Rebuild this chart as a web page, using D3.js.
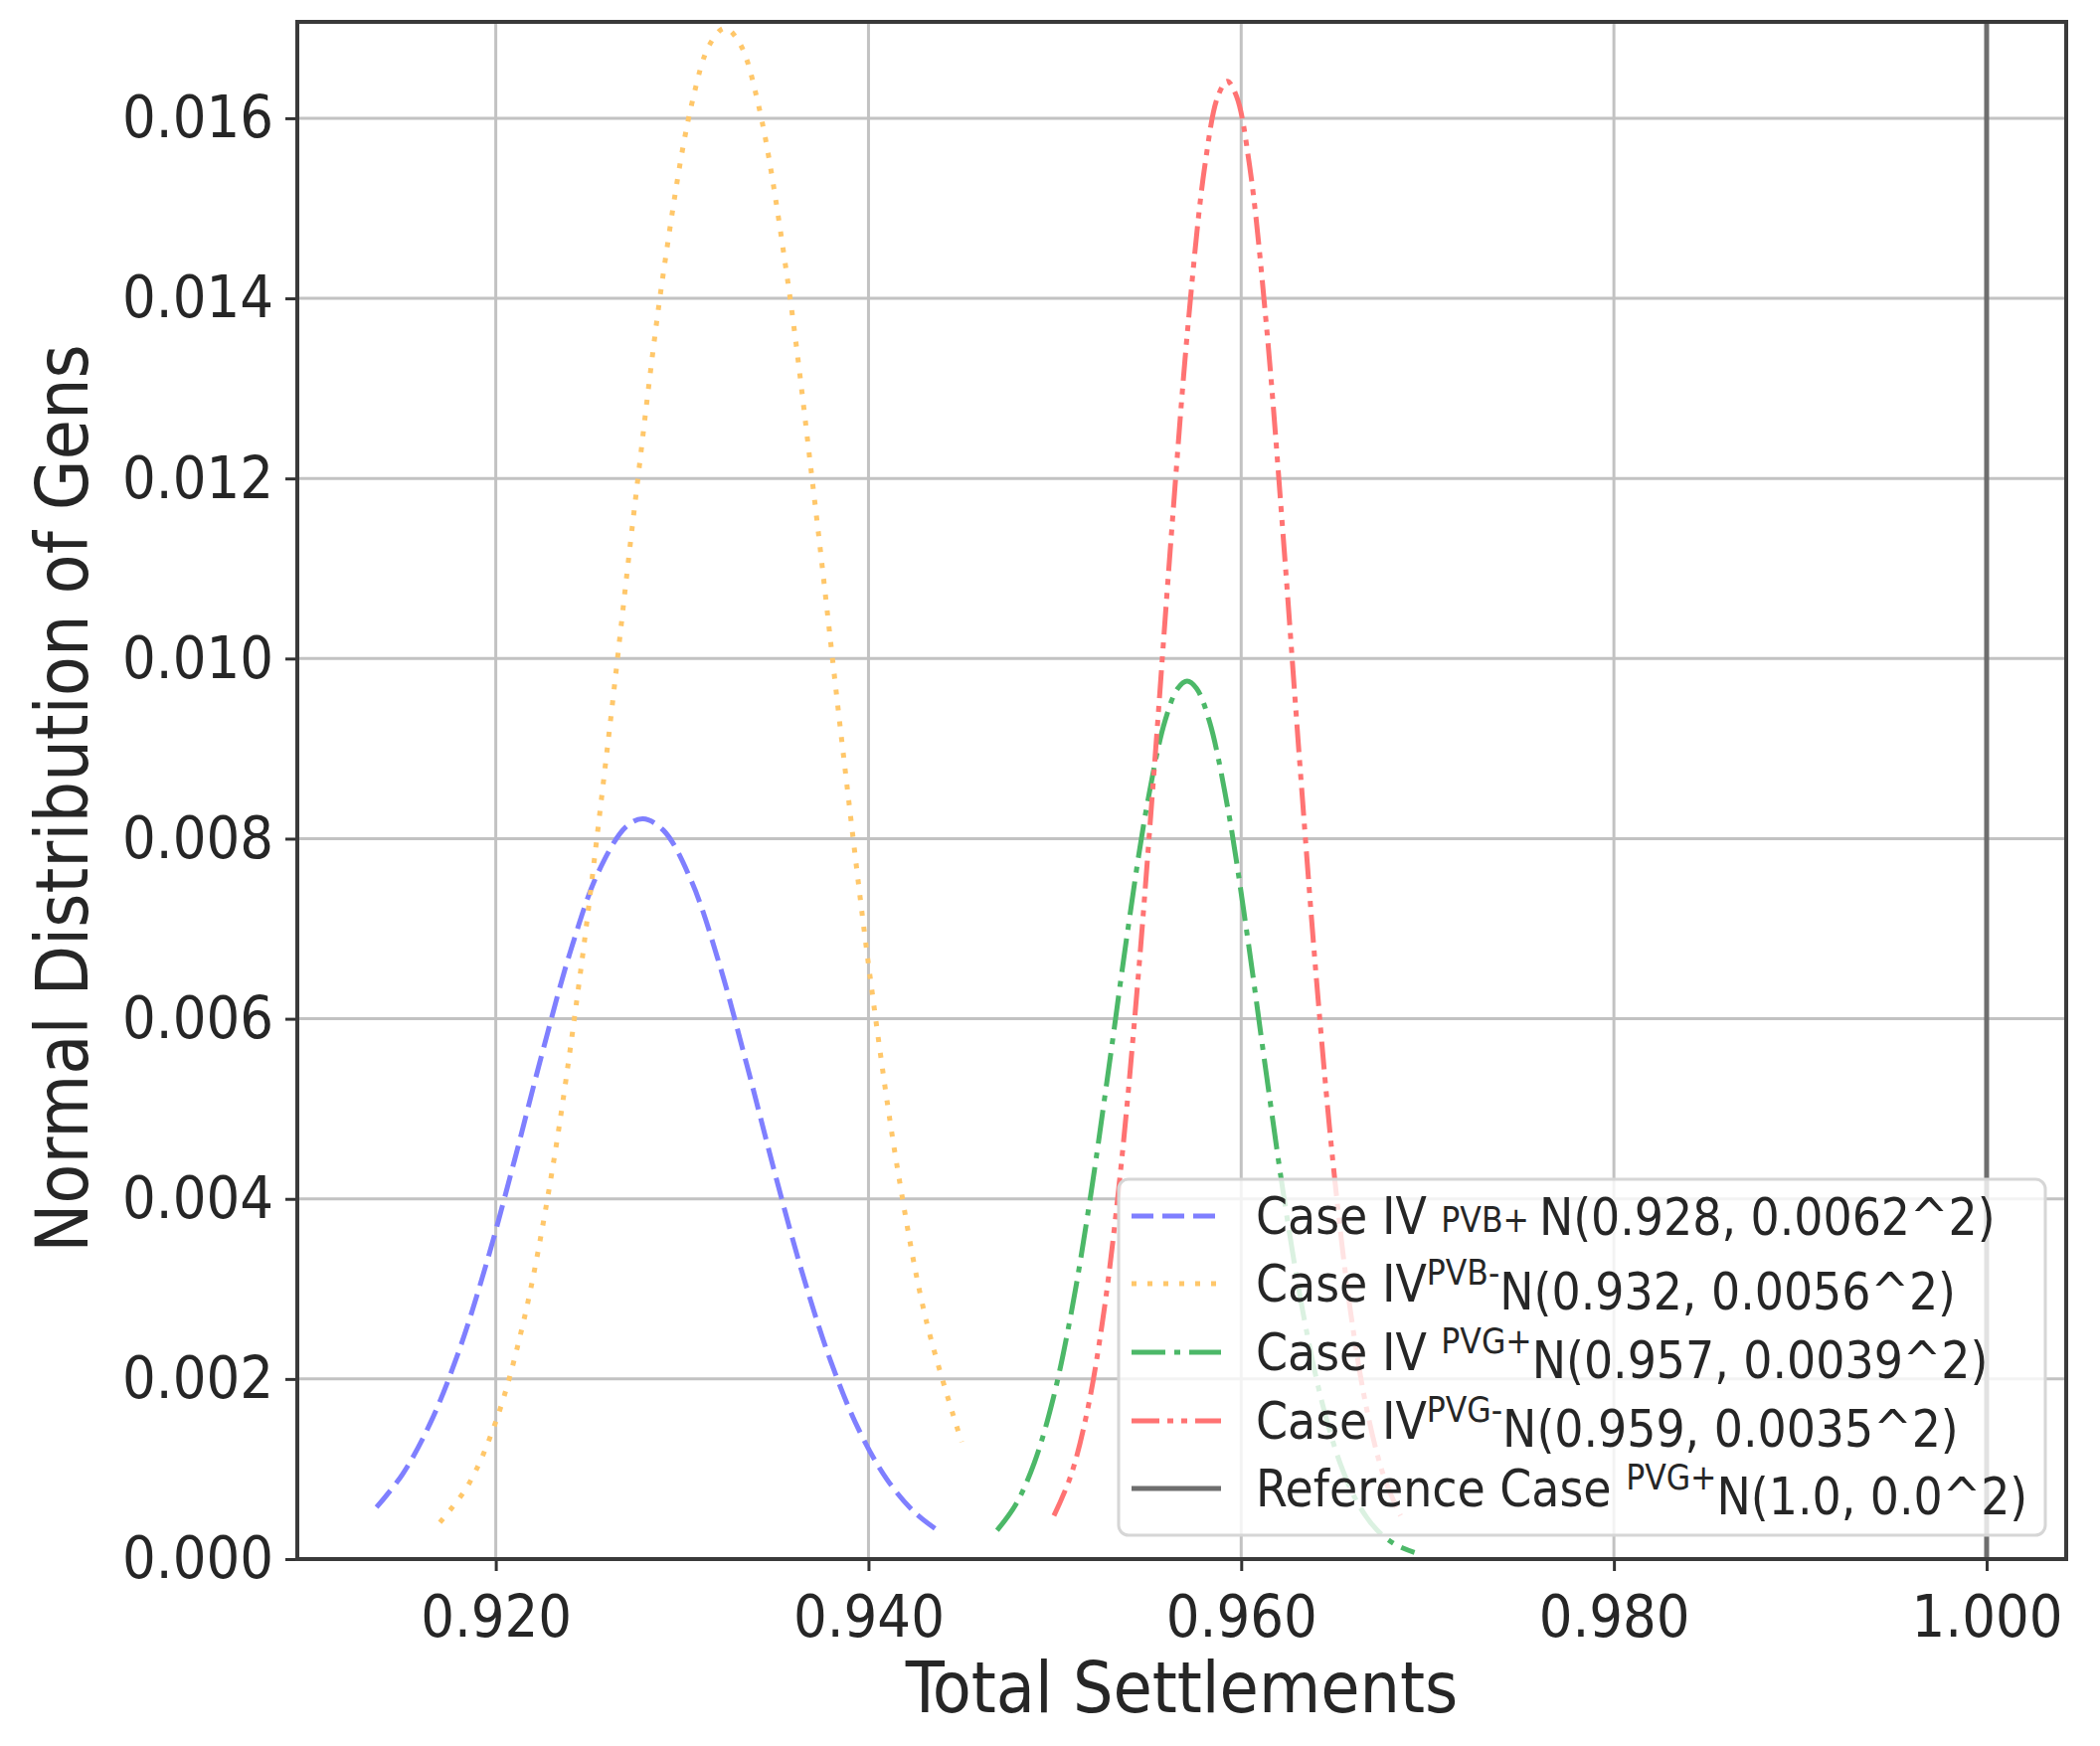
<!DOCTYPE html>
<html>
<head>
<meta charset="utf-8">
<script src="https://cdn.jsdelivr.net/npm/d3@7"></script>
<style>
  html, body { margin: 0; padding: 0; background: #ffffff; }
  svg text { font-family: "DejaVu Sans", "Liberation Sans", sans-serif; font-stretch: condensed; fill: #262626; }
</style>
</head>
<body>
<svg id="chart" width="2112" height="1756"></svg>
<script>
// ---------- data ----------
const xTicks = [0.920, 0.940, 0.960, 0.980, 1.000];
const yTicks = [0.000, 0.002, 0.004, 0.006, 0.008, 0.010, 0.012, 0.014, 0.016];
const xDomain = [0.90935, 1.00427];
const yDomain = [0, 0.01707];

const casePVBplus = [
  [0.9136,0.000575],[0.9150,0.000944],[0.9165,0.001516],[0.9180,0.002297],[0.9195,0.003283],
  [0.9210,0.004425],[0.9225,0.005625],[0.9240,0.006745],[0.9255,0.007627],[0.9270,0.008134],
  [0.9279,0.008220],[0.9290,0.008092],[0.9305,0.007528],[0.9320,0.006606],[0.9335,0.005466],
  [0.9350,0.004267],[0.9365,0.003141],[0.9380,0.002181],[0.9395,0.001428],[0.9410,0.000882],
  [0.9425,0.000514],[0.9437,0.000320]
];
const casePVBminus = [
  [0.9170,0.000407],[0.9185,0.000816],[0.9200,0.001524],[0.9215,0.002647],[0.9230,0.004281],
  [0.9245,0.006445],[0.9260,0.009029],[0.9275,0.011774],[0.9290,0.014290],[0.9305,0.016144],
  [0.9315,0.016828],[0.9323,0.017000],[0.9331,0.016828],[0.9341,0.016144],[0.9356,0.014290],
  [0.9371,0.011774],[0.9386,0.009029],[0.9401,0.006445],[0.9416,0.004281],[0.9431,0.002647],
  [0.9450,0.001299]
];
const casePVGplus = [
  [0.9469,0.000319],[0.9479,0.000604],[0.9489,0.001070],[0.9499,0.001773],[0.9509,0.002756],
  [0.9519,0.004008],[0.9529,0.005460],[0.9539,0.006963],[0.9549,0.008316],[0.9559,0.009299],
  [0.9566,0.009670],[0.9571,0.009750],[0.9576,0.009670],[0.9583,0.009299],[0.9593,0.008316],
  [0.9603,0.006963],[0.9613,0.005460],[0.9623,0.004008],[0.9633,0.002756],[0.9643,0.001773],
  [0.9653,0.001070],[0.9663,0.000604],[0.9673,0.000319],[0.9683,0.000158],[0.9693,0.000073]
];
const casePVGminus = [
  [0.94995,0.000481],[0.95085,0.000921],[0.95175,0.001652],[0.95265,0.002773],[0.95355,0.004357],
  [0.95445,0.006408],[0.95535,0.008820],[0.95625,0.011366],[0.95715,0.013707],[0.95805,0.015473],
  [0.95875,0.016244],[0.95925,0.016410],[0.95975,0.016244],[0.96045,0.015473],[0.96135,0.013707],
  [0.96225,0.011366],[0.96315,0.008820],[0.96405,0.006408],[0.96495,0.004357],[0.96585,0.002773],
  [0.96675,0.001652],[0.96765,0.000921],[0.96855,0.000481]
];
const referenceCase = [[1.0, 0.0], [1.0, 0.01707]];

const seriesNames = ["Case IV", "Case IV", "Case IV", "Case IV", "Reference Case"];
const seriesSup = ["PVB+", "PVB-", "PVG+", "PVG-", "PVG+"];
const seriesDist = ["N(0.928, 0.0062^2)", "N(0.932, 0.0056^2)", "N(0.957, 0.0039^2)", "N(0.959, 0.0035^2)", "N(1.0, 0.0^2)"];

// ---------- styles ----------
const styles = [
  {data: casePVBplus,  color: "#7f7fff", dash: "22,9", width: 5, gap: true,  supShift: "0.05em", supGap: true},
  {data: casePVBminus, color: "#ffc76a", dash: "5,11", width: 5, gap: false, supShift: "0.5em", supGap: false},
  {data: casePVGplus,  color: "#4cb868", dash: "34,9,6,9", width: 5, gap: true, supShift: "0.5em", supGap: false},
  {data: casePVGminus, color: "#ff7373", dash: "28,8,6,8,6,8", width: 5, gap: false, supShift: "0.5em", supGap: false},
  {data: referenceCase, color: "#6e6e6e", dash: null, width: 5, gap: true, supShift: "0.5em", supGap: false}
];

const svg = d3.select("#chart");
const L = 299, R = 2078, T = 22, B = 1568;
const x = d3.scaleLinear().domain(xDomain).range([L, R]);
const y = d3.scaleLinear().domain(yDomain).range([B, T]);

// grid
const grid = svg.append("g");
grid.selectAll("line.gx").data(xTicks).enter().append("line")
  .attr("x1", d => x(d)).attr("x2", d => x(d)).attr("y1", T).attr("y2", B)
  .attr("stroke", "#c2c2c2").attr("stroke-width", 3);
grid.selectAll("line.gy").data(yTicks).enter().append("line")
  .attr("x1", L).attr("x2", R).attr("y1", d => y(d)).attr("y2", d => y(d))
  .attr("stroke", "#c2c2c2").attr("stroke-width", 3);

// curves
const line = d3.line().x(d => x(d[0])).y(d => y(d[1])).curve(d3.curveCatmullRom);
svg.append("clipPath").attr("id", "plotclip").append("rect")
  .attr("x", L).attr("y", T).attr("width", R - L).attr("height", B - T);
styles.forEach(s => {
  svg.append("path").datum(s.data)
    .attr("d", line)
    .attr("fill", "none")
    .attr("stroke", s.color)
    .attr("stroke-width", s.width)
    .attr("stroke-dasharray", s.dash)
    .attr("clip-path", "url(#plotclip)");
});

// axes
const xAxis = d3.axisBottom(x).tickValues(xTicks).tickFormat(d3.format(".3f")).tickSize(12).tickPadding(12);
const yAxis = d3.axisLeft(y).tickValues(yTicks).tickFormat(d3.format(".3f")).tickSize(12).tickPadding(12);
const gx = svg.append("g").attr("transform", `translate(0,${B})`).call(xAxis);
const gy = svg.append("g").attr("transform", `translate(${L},0)`).call(yAxis);
[gx, gy].forEach(g => {
  g.select(".domain").remove();
  g.selectAll(".tick line").attr("stroke", "#333").attr("stroke-width", 3);
  g.selectAll(".tick text").attr("font-size", 59).attr("fill", "#262626")
    .style("font-family", '"DejaVu Sans", sans-serif').style("font-stretch", "condensed");
});
gx.selectAll(".tick text").attr("dy", "0.92em");

// spines
svg.append("rect").attr("x", L).attr("y", T).attr("width", R - L).attr("height", B - T)
  .attr("fill", "none").attr("stroke", "#3a3a3a").attr("stroke-width", 4);

// axis labels
svg.append("text").attr("x", (L + R) / 2).attr("y", 1722).attr("text-anchor", "middle")
  .attr("font-size", 71).text("Total Settlements");
svg.append("text").attr("transform", `translate(88,${(T + B) / 2 + 8}) rotate(-90)`)
  .attr("text-anchor", "middle").attr("font-size", 73).text("Normal Distribution of Gens");

// legend
const lg = svg.append("g");
lg.append("rect").attr("x", 1125).attr("y", 1186).attr("width", 932).attr("height", 358)
  .attr("rx", 10).attr("fill", "#ffffff").attr("fill-opacity", 0.8)
  .attr("stroke", "#d6d6d6").attr("stroke-width", 3);
const rowY = [1223, 1291, 1360, 1429, 1497];
styles.forEach((s, i) => {
  lg.append("line").attr("x1", 1138).attr("x2", 1228).attr("y1", rowY[i]).attr("y2", rowY[i])
    .attr("stroke", s.color).attr("stroke-width", s.width).attr("stroke-dasharray", s.dash);
  const t = lg.append("text").attr("x", 1263).attr("y", rowY[i] + 18).attr("font-size", 51);
  t.append("tspan").text(seriesNames[i] + (s.gap ? " " : ""));
  t.append("tspan").attr("font-size", 35).attr("dy", "-" + s.supShift).text(seriesSup[i] + (s.supGap ? " " : ""));
  t.append("tspan").attr("dy", s.supShift).text(seriesDist[i]);
});
</script>
</body>
</html>
